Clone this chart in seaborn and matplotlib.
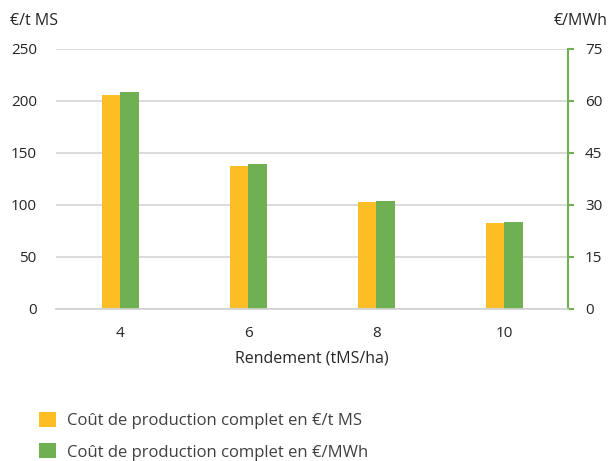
import matplotlib
matplotlib.use("Agg")
import matplotlib.pyplot as plt
import pandas as pd
import seaborn as sns
from matplotlib.patches import Patch

# Data
rendement = ["4", "6", "8", "10"]
cout_t_ms = [206, 137.5, 103, 82.5]      # €/t MS (left axis)
cout_mwh = [62.5, 41.7, 31.2, 25.0]      # €/MWh (right axis)
series = ["Coût de production complet en €/t MS", "Coût de production complet en €/MWh"]

orange = "#FDBD24"
green = "#6FB052"

df = pd.DataFrame({
    "Rendement": rendement * 2,
    "Serie": [series[0]] * 4 + [series[1]] * 4,
    "Valeur": cout_t_ms + cout_mwh,
})

sns.set_style("white")
plt.rcParams["font.family"] = ["Open Sans", "DejaVu Sans"]

fig = plt.figure(figsize=(6.11, 4.61), dpi=100)
ax1 = fig.add_axes([0.092, 0.330, 0.838, 0.564])
ax2 = ax1.twinx()

palette = {series[0]: orange, series[1]: green}
sns.barplot(data=df[df["Serie"] == series[0]], x="Rendement", y="Valeur", hue="Serie",
            hue_order=series, order=rendement, palette=palette, width=0.29, gap=0,
            dodge=True, ax=ax1, legend=False, saturation=1, linewidth=0)
sns.barplot(data=df[df["Serie"] == series[1]], x="Rendement", y="Valeur", hue="Serie",
            hue_order=series, order=rendement, palette=palette, width=0.29, gap=0,
            dodge=True, ax=ax2, legend=False, saturation=1, linewidth=0)

ax1.set_ylim(0, 250)
ax1.set_yticks([0, 50, 100, 150, 200, 250])
ax2.set_ylim(0, 75)
ax2.set_yticks([0, 15, 30, 45, 60, 75])
ax1.set_xlim(-0.5, 3.5)

ax1.yaxis.grid(True, color="#d4d4d4", linewidth=1.2)
ax1.set_axisbelow(True)
for ax in (ax1, ax2):
    for s in ["top", "left"]:
        ax.spines[s].set_visible(False)
    ax.spines["bottom"].set_color("#d4d4d4")
    ax.spines["bottom"].set_linewidth(1.2)
ax1.spines["right"].set_visible(False)
ax2.spines["right"].set_color(green)
ax2.spines["right"].set_linewidth(1.5)

ax1.tick_params(axis="y", length=0, labelsize=11, colors="#262626", pad=14)
ax1.tick_params(axis="x", length=0, labelsize=11, colors="#262626", pad=12)
ax2.tick_params(axis="y", length=4, width=1.5, color=green, labelsize=11,
                labelcolor="#262626", pad=8)

ax1.set_xlabel("Rendement (tMS/ha)", fontsize=11.5, color="#262626", labelpad=7)
ax1.set_ylabel("")
ax2.set_ylabel("")

fig.text(0.016, 0.955, "€/t MS", fontsize=11.5, color="#262626", va="center")
fig.text(0.995, 0.955, "€/MWh", fontsize=11.5, color="#262626", va="center", ha="right")

handles = [Patch(facecolor=orange, edgecolor="none"), Patch(facecolor=green, edgecolor="none")]
fig.legend(handles, series, loc="upper left", bbox_to_anchor=(0.064, 0.106),
           frameon=False, fontsize=12, handlelength=1.0, handleheight=1.0,
           handletextpad=0.7, labelspacing=0.85, borderaxespad=0, borderpad=0,
           labelcolor="#404040")

fig.savefig("out.png", dpi=100)
